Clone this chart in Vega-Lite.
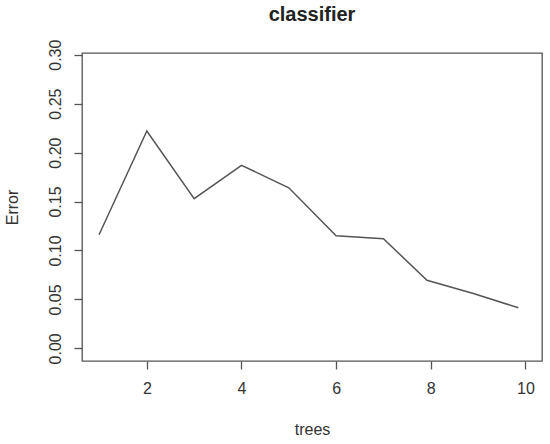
{
  "$schema": "https://vega.github.io/schema/vega-lite/v6.json",
  "width": 460,
  "height": 308,
  "autosize": "none",
  "padding": {"left": 82, "top": 53, "right": 8, "bottom": 83},
  "background": "white",
  "title": {"text": "classifier", "fontSize": 20, "fontWeight": "bold", "font": "Liberation Sans", "color": "#222", "anchor": "middle", "offset": 14},
  "data": {
    "values": [
      {"trees": 0.99, "Error": 0.116},
      {"trees": 2, "Error": 0.222},
      {"trees": 3, "Error": 0.153},
      {"trees": 4, "Error": 0.187},
      {"trees": 5, "Error": 0.164},
      {"trees": 6, "Error": 0.115},
      {"trees": 7, "Error": 0.112},
      {"trees": 7.92, "Error": 0.0695},
      {"trees": 8.9, "Error": 0.056},
      {"trees": 9.85, "Error": 0.0415}
    ]
  },
  "mark": {"type": "line", "color": "#555", "strokeWidth": 1.5},
  "encoding": {
    "x": {
      "field": "trees", "type": "quantitative",
      "scale": {"domain": [0.63, 10.35], "nice": false, "zero": false},
      "axis": {"values": [2, 4, 6, 8, 10], "title": "trees", "titleY": 68, "titleBaseline": "middle", "labelFontSize": 16, "titleFontSize": 16, "labelPadding": 11}
    },
    "y": {
      "field": "Error", "type": "quantitative",
      "scale": {"domain": [-0.0129, 0.3017], "nice": false, "zero": false},
      "axis": {"values": [0, 0.05, 0.1, 0.15, 0.2, 0.25, 0.3], "format": ".2f", "labelAngle": 270, "title": "Error", "titleX": -70, "titleBaseline": "middle", "labelFontSize": 16, "titleFontSize": 16, "labelPadding": 11}
    }
  },
  "config": {
    "view": {"stroke": "#555", "strokeWidth": 1.3},
    "axis": {
      "domain": false,
      "grid": false,
      "ticks": true,
      "tickSize": 8,
      "tickColor": "#555",
      "tickWidth": 1.3,
      "labelFont": "Liberation Sans",
      "labelColor": "#333",
      "titleFont": "Liberation Sans",
      "titleFontWeight": "normal",
      "titleColor": "#333"
    }
  }
}
